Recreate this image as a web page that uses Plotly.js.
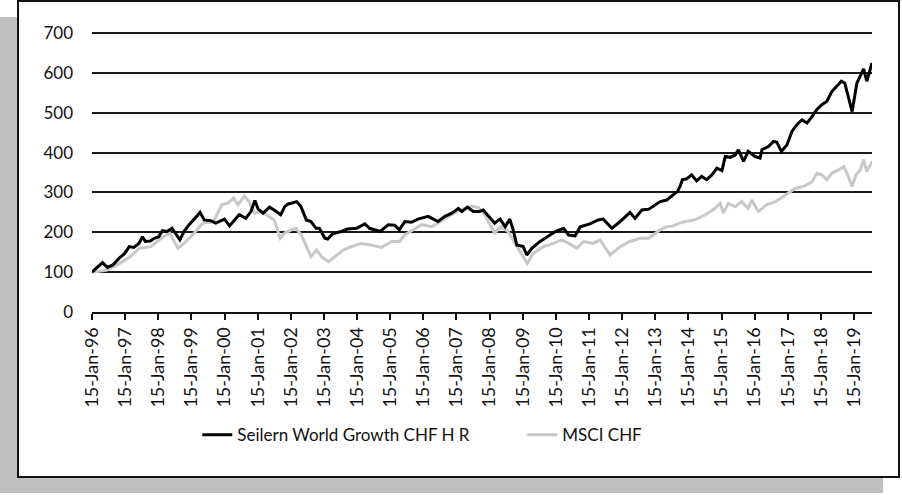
<!DOCTYPE html>
<html>
<head>
<meta charset="utf-8">
<script src="https://cdn.plot.ly/plotly-3.0.1.min.js"></script>
<style>
  html, body { margin: 0; padding: 0; background: #ffffff; width: 902px; height: 495px; overflow: hidden; }
  #shadow { position: absolute; left: 0; top: 17px; width: 883px; height: 476px; background: #c0c0c0; }
  #frame { position: absolute; left: 17px; top: 0; width: 883px; height: 478px; background: #ffffff; border: 2px solid #111; box-sizing: border-box; }
  #chart { position: absolute; left: 0; top: 0; width: 902px; height: 495px; }
</style>
</head>
<body>
<div id="shadow"></div>
<div id="frame"></div>
<div id="chart"></div>
<script>
// Seilern World Growth CHF H R
const seilernDates = [
  '1996-01-15','1996-05-10','1996-07-01','1996-09-01','1996-11-10','1997-01-10','1997-03-01','1997-04-20','1997-06-15','1997-07-25',
  '1997-08-25','1997-10-20','1997-12-01','1998-01-20','1998-03-01','1998-04-20','1998-06-15','1998-07-25','1998-09-10','1998-10-25',
  '1998-12-20','1999-02-15','1999-04-20','1999-06-05','1999-08-15','1999-10-10','2000-01-15','2000-03-10','2000-05-01','2000-06-25',
  '2000-09-05','2000-11-01','2000-12-15','2001-01-20','2001-03-15','2001-05-25','2001-07-15','2001-09-25','2001-11-10','2001-12-15',
  '2002-01-20','2002-03-20','2002-05-05','2002-07-05','2002-08-25','2002-10-20','2002-11-25','2003-01-25','2003-02-25','2003-04-20',
  '2003-07-25','2003-10-01','2004-01-10','2004-04-10','2004-06-01','2004-09-25','2004-12-25','2005-03-05','2005-04-25','2005-06-25',
  '2005-09-05','2005-11-15','2006-03-10','2006-06-25','2006-09-10','2006-11-25','2007-02-05','2007-03-15','2007-05-15','2007-07-20',
  '2007-09-25','2007-11-05','2008-01-05','2008-03-10','2008-05-10','2008-07-05','2008-08-25','2008-10-01','2008-11-10','2009-01-20',
  '2009-02-28','2009-04-25','2009-07-25','2009-10-25','2010-01-10','2010-04-10','2010-06-05','2010-08-15','2010-10-10','2011-01-25',
  '2011-04-25','2011-06-20','2011-09-25','2011-12-25','2012-04-10','2012-06-05','2012-08-20','2012-11-05','2013-03-10','2013-05-20',
  '2013-08-01','2013-09-15','2013-10-15','2013-11-10','2013-12-25','2014-02-20','2014-04-15','2014-06-10','2014-08-05','2014-10-01',
  '2014-11-25','2015-01-20','2015-02-25','2015-04-20','2015-06-15','2015-07-20','2015-09-15','2015-11-05','2016-01-20','2016-03-15',
  '2016-04-05','2016-06-15','2016-08-10','2016-09-15','2016-11-05','2017-01-05','2017-03-01','2017-04-25','2017-06-20','2017-08-15',
  '2017-10-10','2017-12-01','2018-01-25','2018-03-20','2018-05-15','2018-07-10','2018-08-28','2018-10-05','2018-11-01','2018-12-25',
  '2019-02-15','2019-03-25','2019-04-30','2019-06-05','2019-07-05','2019-08-01'
];
const seilernValues = [
  100,124,112,118,135,147,164,162,172,189,
  177,178,185,189,204,202,210,198,181,202,
  219,233,250,231,229,223,233,216,231,244,
  235,252,280,258,248,263,256,244,265,271,
  273,277,265,231,227,210,210,185,183,196,
  202,208,210,221,210,202,219,218,206,227,
  225,233,240,227,240,248,260,252,263,252,
  252,256,240,223,233,214,233,206,168,164,
  143,160,177,191,202,210,193,191,214,221,
  231,233,210,227,250,235,256,258,277,281,
  294,302,315,332,334,344,329,340,332,344,
  361,355,390,388,394,407,378,403,390,386,
  407,415,428,426,403,419,453,470,482,474,
  491,508,520,528,553,566,579,574,549,503,
  574,595,610,579,606,625
];

// MSCI CHF
const msciDates = [
  '1996-01-15','1996-07-01','1996-11-15','1997-03-15','1997-06-20','1997-10-25','1998-02-15','1998-05-20','1998-08-20','1998-10-25',
  '1999-02-15','1999-05-20','1999-09-15','1999-12-15','2000-02-20','2000-04-25','2000-06-10','2000-08-20','2000-10-15','2000-12-10',
  '2001-02-25','2001-05-10','2001-07-15','2001-09-20','2001-11-10','2002-01-20','2002-03-15','2002-05-10','2002-07-05','2002-08-25',
  '2002-10-25','2002-12-20','2003-03-05','2003-05-15','2003-08-20','2003-11-15','2004-03-01','2004-06-20','2004-10-10','2005-02-01',
  '2005-05-01','2005-06-20','2005-09-25','2005-12-30','2006-04-15','2006-06-25','2006-10-20','2007-01-20','2007-04-20','2007-06-25',
  '2007-09-15','2007-11-20','2008-03-10','2008-05-20','2008-08-05','2008-10-20','2009-01-05','2009-03-05','2009-05-10','2009-09-01',
  '2009-12-20','2010-03-20','2010-06-05','2010-09-05','2010-11-15','2011-03-01','2011-05-15','2011-09-05','2011-12-25','2012-04-10',
  '2012-08-01','2012-11-05','2013-03-10','2013-05-20','2013-08-01','2013-10-10','2013-12-15','2014-03-25','2014-07-20','2014-11-05',
  '2015-01-01','2015-02-05','2015-04-01','2015-06-15','2015-08-25','2015-11-05','2015-12-15','2016-02-25','2016-05-25','2016-09-01',
  '2016-10-25','2017-01-25','2017-04-05','2017-07-10','2017-10-10','2017-12-01','2018-01-25','2018-03-20','2018-05-15','2018-07-30',
  '2018-09-25','2018-10-30','2018-12-25','2019-02-05','2019-03-25','2019-04-30','2019-06-05','2019-08-01'
];
const msciValues = [
  100,105,122,139,160,164,185,198,160,172,
  198,223,226,269,273,286,269,291,276,248,
  252,240,231,185,198,206,210,193,164,139,
  156,139,126,139,156,164,172,168,162,177,
  177,193,206,219,214,223,240,252,260,266,
  262,245,198,214,202,172,143,122,147,164,
  172,181,172,160,177,172,181,143,164,177,
  185,185,206,214,216,223,227,231,244,260,
  273,248,273,264,277,260,281,252,269,277,
  285,298,310,315,327,348,344,332,348,357,
  365,348,315,344,357,382,352,378
];

const yTickFont = { family: 'Lato, "Open Sans", sans-serif', size: 17, color: '#111' };
const xTickFont = { family: 'Lato, "Open Sans", sans-serif', size: 18, color: '#111' };

const traces = [
  {
    x: msciDates, y: msciValues, type: 'scatter', mode: 'lines', name: 'MSCI CHF',
    line: { color: '#c8c8c8', width: 3 }, legendrank: 2
  },
  {
    x: seilernDates, y: seilernValues, type: 'scatter', mode: 'lines', name: 'Seilern World Growth CHF H R',
    line: { color: '#000000', width: 3 }, legendrank: 1
  }
];

const layout = {
  width: 902, height: 495,
  paper_bgcolor: 'rgba(0,0,0,0)', plot_bgcolor: 'rgba(0,0,0,0)',
  margin: { l: 92, r: 30, t: 31, b: 183, pad: 0 },
  font: yTickFont,
  showlegend: true,
  legend: {
    orientation: 'h', x: 0.135, xanchor: 'left', y: -0.438, yanchor: 'middle',
    font: { family: 'Lato, "Open Sans", sans-serif', size: 17, color: '#111' },
    bgcolor: 'rgba(0,0,0,0)', itemwidth: 30, tracegroupgap: 0,
    entrywidth: 280, entrywidthmode: 'pixels'
  },
  xaxis: {
    type: 'date',
    range: ['1996-01-15', '2019-08-01'],
    tick0: '1996-01-15', dtick: 'M12',
    tickformat: '%d-%b-%y',
    tickangle: -90,
    ticks: 'outside', ticklen: 6, tickwidth: 2, tickcolor: '#111',
    showline: true, linecolor: '#111', linewidth: 2,
    showgrid: false, zeroline: false,
    tickfont: xTickFont
  },
  yaxis: {
    range: [0, 705],
    tickvals: [0, 100, 200, 300, 400, 500, 600, 700],
    ticktext: ['0', '100', '200', '300', '400', '500', '600', '700'],
    showgrid: true, gridcolor: '#1a1a1a', gridwidth: 2,
    zeroline: false, showline: false, ticks: '',
    ticklabelstandoff: 18,
    tickfont: yTickFont
  }
};

Plotly.newPlot('chart', traces, layout, { displayModeBar: false, staticPlot: true });
</script>
</body>
</html>
